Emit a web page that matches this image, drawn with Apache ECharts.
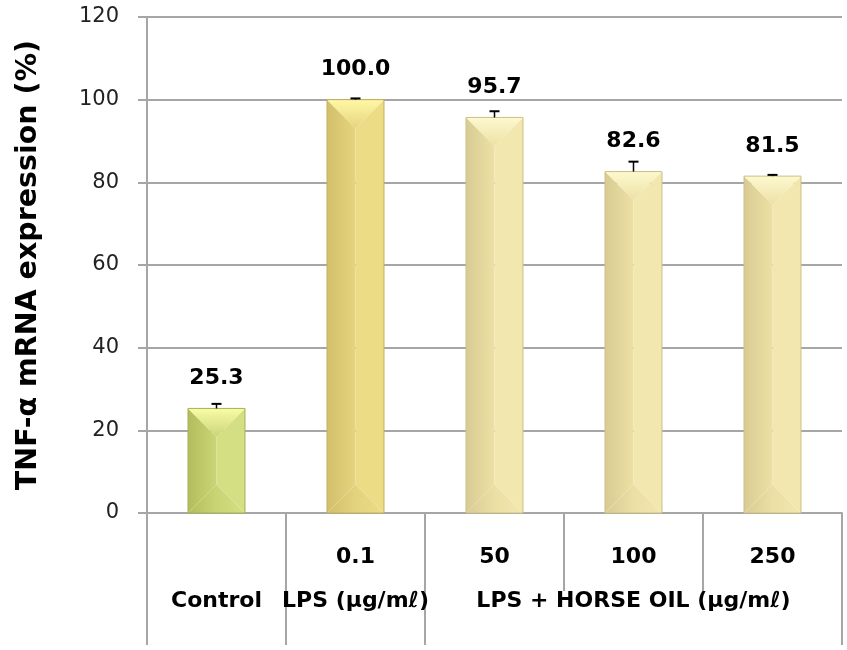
<!DOCTYPE html>
<html>
<head>
<meta charset="utf-8">
<script src="https://cdn.jsdelivr.net/npm/echarts@6/dist/echarts.min.js"></script>
<style>
html,body{margin:0;padding:0;background:#fff;}
#chart{width:847px;height:650px;}
</style>
</head>
<body>
<div id="chart"></div>
<script>
// ---- data ----
const categories = ['Control', 'LPS 0.1', 'HO 50', 'HO 100', 'HO 250'];
const doseLabels = ['', '0.1', '50', '100', '250'];
const groupLabels = ['Control', 'LPS (μg/mℓ)', '', 'LPS + HORSE OIL (μg/mℓ)', ''];
const values = [25.3, 100.0, 95.7, 82.6, 81.5];
const errors = [1.1, 0.3, 1.5, 2.4, 0.3];
const valueLabels = ['25.3', '100.0', '95.7', '82.6', '81.5'];
const yTicks = [0, 20, 40, 60, 80, 100, 120];
const yTitle = 'TNF-α mRNA expression (%)';

// ---- styles (not data) ----
const palettes = [
  {dark: '#b4bd5c', mid: '#cad577', light: '#d4df83', top: '#f9fca6', bot: '#c9d474', edge: '#a8b152'},
  {dark: '#d2bf6c', mid: '#e6d47e', light: '#ecdc86', top: '#fff8a6', bot: '#e3d27e', edge: '#c4b05e'},
  {dark: '#d8cc94', mid: '#ece0a4', light: '#f2e7ae', top: '#fdf9cf', bot: '#ebdfa6', edge: '#cdbf86'},
  {dark: '#d8cc94', mid: '#ece0a4', light: '#f2e7ae', top: '#fdf9cf', bot: '#ebdfa6', edge: '#cdbf86'},
  {dark: '#d8cc94', mid: '#ece0a4', light: '#f2e7ae', top: '#fdf9cf', bot: '#ebdfa6', edge: '#cdbf86'}
];
const FONT = '"DejaVu Sans", "Noto Sans", sans-serif';
const gridColor = '#a6a6a6';

const seriesData = values.map((v, i) => [i, v, errors[i]]);

function renderItem(params, api) {
  const i = api.value(0), v = api.value(1), e = api.value(2);
  const p = palettes[params.dataIndex];
  const top = api.coord([i, v]);
  const base = api.coord([i, 0]);
  const errTop = api.coord([i, v + e]);
  const bw = api.size([1, 0])[0] * 0.41;
  const xc = top[0], x0 = xc - bw / 2, x1 = xc + bw / 2;
  const yt = top[1], yb = base[1];
  const d = Math.min(bw / 2, (yb - yt) / 2);
  const G = echarts.graphic.LinearGradient;
  return {
    type: 'group',
    children: [
      {type: 'polygon', shape: {points: [[x0, yt], [xc, yt + d], [xc, yb - d], [x0, yb]]},
        style: {fill: new G(0, 0, 1, 0, [{offset: 0, color: p.dark}, {offset: 1, color: p.mid}])}},
      {type: 'polygon', shape: {points: [[x1, yt], [xc, yt + d], [xc, yb - d], [x1, yb]]},
        style: {fill: p.light}},
      {type: 'polygon', shape: {points: [[x0, yt], [x1, yt], [xc, yt + d]]},
        style: {fill: new G(0, 0, 0, 1, [{offset: 0, color: p.top}, {offset: 1, color: p.mid}])}},
      {type: 'polygon', shape: {points: [[x0, yb], [x1, yb], [xc, yb - d]]},
        style: {fill: new G(0, 0, 1, 0, [{offset: 0, color: p.dark}, {offset: 0.5, color: p.bot}, {offset: 1, color: p.light}])}},
      {type: 'rect', shape: {x: x0, y: yt, width: bw, height: yb - yt},
        style: {fill: 'none', stroke: p.edge, lineWidth: 1}},
      {type: 'line', shape: {x1: xc, y1: yt, x2: xc, y2: errTop[1]},
        style: {stroke: '#000', lineWidth: 1.5}},
      {type: 'line', shape: {x1: xc - 5, y1: errTop[1], x2: xc + 5, y2: errTop[1]},
        style: {stroke: '#000', lineWidth: 2}},
      {type: 'text', x: xc, y: yt - 30,
        style: {text: valueLabels[params.dataIndex], textAlign: 'center', textVerticalAlign: 'middle',
          font: 'bold 22px ' + FONT, fill: '#000'}}
    ]
  };
}

const chart = echarts.init(document.getElementById('chart'));
chart.setOption({
  animation: false,
  backgroundColor: '#fff',
  grid: {left: 147, right: 5, top: 17, bottom: 137, containLabel: false},
  xAxis: [
    {
      type: 'category', data: doseLabels, position: 'bottom',
      axisLine: {show: true, lineStyle: {color: gridColor, width: 2}},
      axisTick: {show: true, length: 78, interval: 0, lineStyle: {color: gridColor, width: 2}},
      axisLabel: {interval: 0, margin: 33, color: '#000', fontSize: 22, fontWeight: 'bold', fontFamily: FONT}
    },
    {
      type: 'category', data: groupLabels, position: 'bottom', offset: 0,
      axisLine: {show: false},
      axisTick: {show: true, length: 132, interval: function (idx) { return idx <= 2; },
        lineStyle: {color: gridColor, width: 2}},
      axisLabel: {interval: 0, margin: 77, color: '#000', fontSize: 22, fontWeight: 'bold', fontFamily: FONT}
    }
  ],
  yAxis: {
    type: 'value', min: yTicks[0], max: yTicks[yTicks.length - 1], interval: 20,
    name: yTitle, nameLocation: 'middle', nameGap: 104, nameRotate: 90,
    nameTextStyle: {color: '#000', fontSize: 28.5, fontWeight: 'bold', fontFamily: FONT},
    axisLine: {show: true, lineStyle: {color: gridColor, width: 2}},
    axisTick: {show: true, length: 9, lineStyle: {color: gridColor, width: 2}},
    axisLabel: {margin: 28, color: '#222', fontSize: 21, fontFamily: FONT},
    splitLine: {show: true, lineStyle: {color: gridColor, width: 2}}
  },
  series: [{
    type: 'custom', xAxisIndex: 0, renderItem: renderItem,
    encode: {x: 0, y: 1}, data: seriesData, clip: false, z: 5
  }]
});
</script>
</body>
</html>
